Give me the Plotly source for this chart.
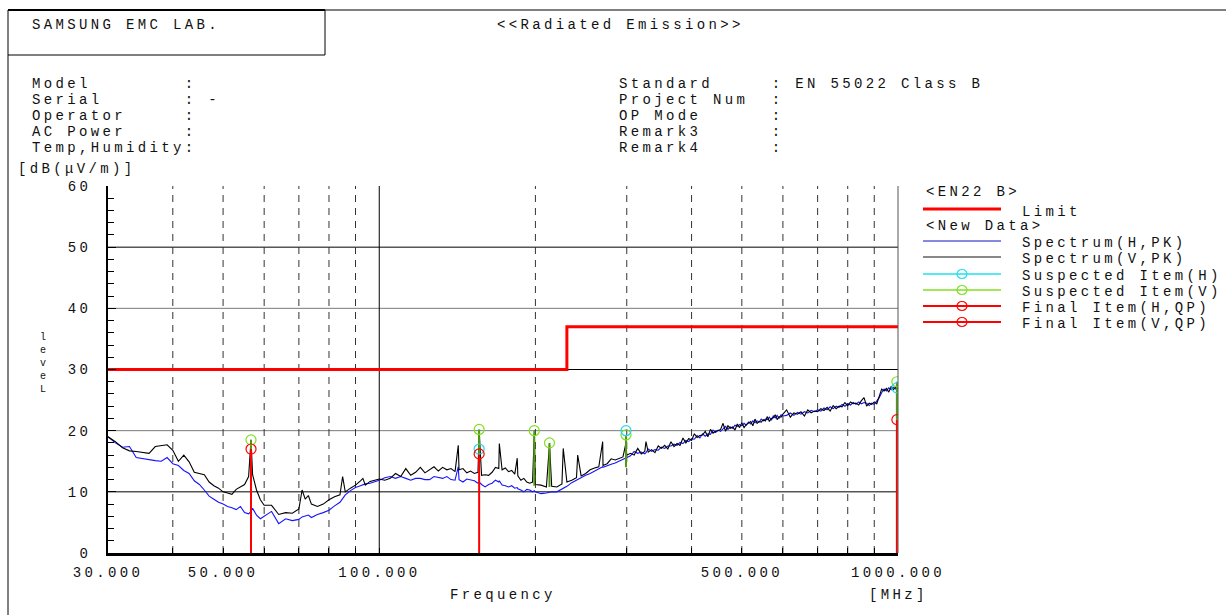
import plotly.graph_objects as go

# ---------------- data ----------------
freq_mhz = [
    30, 31, 32, 33, 34, 35, 36, 37, 38, 39, 40, 41, 42, 43, 44, 45, 46, 47, 48, 49, 50,
    51, 52, 53, 54, 55, 56, 56.6, 57, 58, 59, 60, 62, 64, 66, 68, 70, 71, 72, 73, 74, 76,
    78, 80, 82, 84, 85, 86, 88, 90, 92, 93, 94, 96, 98, 100,
    102.5, 105, 107.5, 110, 112.5, 115, 117.5, 120, 122.5, 125, 127.5, 130, 132.5, 135,
    137.5, 140, 142, 142.5, 145, 147.5, 150, 152.5, 155, 155.8, 157.5, 160, 162.5, 165,
    167.5, 170, 170.4, 172.5, 175, 177.5, 180, 182.5, 184.5, 185, 187.5, 190, 192.5, 195,
    197.5, 199, 200, 205, 210, 212.9, 215, 220, 225, 226.3, 230, 235, 240, 241.3, 245,
    250, 255, 260, 265, 269.6, 270, 275, 280, 285, 290, 295, 299, 300,
    305, 310, 315, 320, 325, 326.7, 330, 335, 340, 345,
    350, 355, 360, 365, 370, 375, 380, 385, 390, 395,
    400, 405, 410, 415, 420, 425, 430, 435, 440, 445,
    450, 455, 460, 465, 470, 475, 480, 485, 490, 495,
    500, 505, 510, 515, 520, 525, 530, 535, 540, 545,
    550, 555, 560, 565, 570, 575, 580, 585, 590, 595,
    600, 610, 620, 630, 640, 650, 660, 670, 680, 690,
    700, 710, 720, 730, 740, 750, 760, 770, 780, 790,
    800, 810, 820, 830, 840, 850, 860, 870, 880, 890,
    900, 910, 920, 930, 940, 950, 960, 970, 980, 990,
    995, 1000,
]

spectrum_h_pk = [
    19.0, 18.0, 17.3, 17.4, 15.6, 15.4, 15.3, 15.1, 15.0, 15.6, 14.6, 14.3, 13.5, 13.0,
    11.8, 11.2, 10.3, 9.3, 8.8, 8.3, 8.0, 7.6, 7.4, 7.1, 7.6, 6.6, 6.4, 6.8, 7.3, 6.2,
    5.6, 6.0, 6.8, 4.8, 5.6, 5.3, 5.5, 5.9, 6.0, 6.2, 5.8, 6.3, 6.6, 7.0, 7.7, 8.3, 8.9,
    9.5, 10.2, 10.7, 11.0, 11.2, 11.3, 11.4, 11.6, 11.9,
    12.3, 12.5, 12.2, 12.5, 12.2, 11.9, 12.2, 12.2, 12.0, 12.0, 12.5, 12.3, 12.2, 12.5,
    12.0, 11.9, 14.1, 12.0, 11.6, 12.1, 12.0, 11.8, 11.4, 11.6, 11.2, 10.8, 11.2, 11.4,
    11.9, 11.6, 11.8, 11.1, 11.0, 10.8, 11.0, 10.6, 10.7, 10.5, 10.3, 10.0, 10.4, 10.3,
    10.0, 10.2, 10.0, 9.7, 9.8, 9.9, 10.0, 10.0, 10.4, 10.5, 10.9, 11.5, 11.9, 12.1, 12.3,
    12.7, 13.0, 13.4, 13.8, 14.1, 14.0, 14.3, 14.5, 14.7, 15.0, 15.3, 15.5, 15.6,
    15.9, 16.6, 16.3, 16.5, 16.2, 16.4, 17.0, 16.6, 16.9, 16.8,
    17.3, 17.1, 17.5, 17.5, 17.8, 17.6, 18.1, 17.9, 18.4, 18.2,
    18.7, 18.6, 19.2, 18.8, 19.5, 19.1, 19.5, 19.4, 20.1, 19.7,
    20.1, 19.9, 20.3, 20.7, 20.2, 20.6, 20.4, 20.9, 20.7, 21.0,
    20.8, 21.2, 20.9, 21.4, 21.1, 21.6, 21.3, 21.6, 21.4, 21.9,
    21.6, 21.9, 21.8, 22.2, 21.7, 22.4, 22.1, 22.5, 22.0, 22.6,
    22.4, 22.5, 22.9, 22.5, 23.0, 22.7, 23.1, 22.9, 23.3, 23.1,
    23.4, 23.2, 23.7, 23.4, 23.9, 23.6, 24.0, 23.8, 24.3, 24.0,
    24.4, 24.2, 24.6, 24.3, 24.7, 24.4, 24.6, 24.5, 24.1, 24.5,
    24.3, 24.8, 25.4, 26.2, 26.8, 26.5, 27.0, 26.7, 27.1, 26.8,
    27.0, 26.9,
]

spectrum_v_pk = [
    19.0, 18.2, 17.2, 16.7, 16.6, 16.5, 16.3, 17.4, 17.6, 17.7, 16.8, 15.0, 16.0, 14.9,
    13.2, 13.0, 12.8, 11.6, 11.0, 10.6, 10.0, 9.8, 9.6, 10.4, 10.8, 11.2, 12.5, 18.5,
    12.8, 10.3, 8.7, 7.8, 7.8, 6.3, 6.6, 6.5, 7.2, 10.3, 8.8, 9.4, 8.0, 7.6, 8.0, 8.7,
    9.2, 9.5, 12.5, 10.0, 10.6, 11.1, 11.8, 12.2, 11.1, 11.7, 11.9, 12.1,
    11.9, 12.2, 13.0, 12.5, 13.8, 12.7, 13.2, 14.0, 13.1, 13.6, 14.1, 13.4, 14.0, 13.6,
    13.8, 13.3, 17.6, 13.6, 13.8, 13.1, 13.4, 13.0, 13.2, 20.0, 12.7, 12.8, 12.7, 13.2,
    14.0, 13.8, 17.9, 13.6, 13.9, 13.3, 13.5, 12.9, 15.5, 12.6, 11.9, 12.2, 11.6, 11.4,
    11.6, 19.5, 11.2, 11.1, 10.8, 17.8, 10.9, 10.8, 11.3, 17.1, 11.6, 11.9, 12.3, 16.0,
    12.6, 13.0, 13.6, 13.9, 14.1, 18.2, 14.3, 14.6, 15.4, 15.2, 15.4, 15.7, 18.0, 16.0,
    16.3, 16.0, 17.1, 16.2, 16.6, 18.2, 16.5, 16.9, 16.4, 17.5,
    17.1, 17.6, 17.0, 18.2, 17.4, 17.9, 17.6, 18.8, 18.0, 18.7,
    18.4, 19.5, 18.9, 19.2, 19.3, 19.9, 19.0, 20.2, 19.6, 19.9,
    20.0, 20.2, 21.2, 19.9, 20.8, 20.4, 20.6, 20.1, 21.1, 20.5,
    21.3, 20.5, 21.0, 21.2, 21.5, 20.8, 21.9, 21.2, 21.5, 21.4,
    21.8, 21.6, 22.3, 21.5, 22.0, 22.1, 22.6, 21.8, 22.3, 22.2,
    22.7, 23.4, 22.2, 22.9, 22.7, 23.1, 22.4, 23.4, 22.9, 23.2,
    23.1, 23.6, 23.3, 23.8, 23.2, 24.1, 23.6, 24.0, 23.9, 24.6,
    24.1, 24.7, 24.4, 24.5, 24.2, 24.9, 25.4, 24.0, 24.5, 24.3,
    24.7, 24.4, 25.7, 26.8, 26.5, 26.9, 26.3, 27.2, 26.7, 27.1,
    26.9, 27.2,
]

assert len(freq_mhz) == len(spectrum_h_pk) == len(spectrum_v_pk), (
    len(freq_mhz), len(spectrum_h_pk), len(spectrum_v_pk))

limit_freq = [30, 230, 230, 1000]
limit_level = [30, 30, 37, 37]

susp_h_freq = [155.8, 299, 995]
susp_h_level = [17.0, 20.0, 27.0]

susp_v_freq = [56.6, 155.8, 199, 212.9, 299, 995]
susp_v_level = [18.5, 20.2, 20.0, 18.0, 19.3, 28.0]
susp_v_base = [17.0, 16.2, 11.0, 10.8, 14.0, 21.8]

final_h_freq = [155.8]
final_h_level = [16.2]
final_v_freq = [56.6, 995]
final_v_level = [17.0, 21.8]

grid_dashed_freq = [40, 50, 60, 70, 80, 90, 200, 300, 400, 500, 600, 700, 800, 900]
grid_solid_freq = [100]
x_tick_vals = [30, 40, 50, 60, 70, 80, 90, 100, 200, 300, 400, 500, 600, 700, 800, 900, 1000]
x_tick_text = ["30.000", "", "50.000", "", "", "", "", "100.000", "", "", "", "500.000",
               "", "", "", "", "1000.000"]
y_tick_vals = [0, 10, 20, 30, 40, 50, 60]
y_grid_black = [10, 30, 50]
y_grid_gray = [20, 40]

header_left = ["Model", "Serial", "Operator", "AC Power", "Temp,Humidity"]
header_left_val = ["", "-", "", "", ""]
header_right = ["Standard", "Project Num", "OP Mode", "Remark3", "Remark4"]
header_right_val = ["EN 55022 Class B", "", "", "", ""]

legend_labels = ["Spectrum(H,PK)", "Spectrum(V,PK)", "Suspected Item(H)",
                 "Suspected Item(V)", "Final Item(H,QP)", "Final Item(V,QP)"]

# ---------------- styling helpers ----------------
FONT = "Liberation Mono"
LS = 3.35
L, R, T, B = 108, 898, 186, 553
W, H = R - L, B - T


def px(x):
    return (x - L) / W


def py(y):
    return (B - y) / H


def mono(s, ls=LS):
    s = s.replace(" ", "\u00a0")
    return f'<span style="letter-spacing:{ls}px">{s}</span>'


def stems(freqs, lo, hi):
    xs, ys = [], []
    for f, a, b in zip(freqs, lo, hi):
        xs += [f, f, None]
        ys += [a, b, None]
    return xs, ys


def vlines(freqs):
    xs, ys = [], []
    for f in freqs:
        xs += [f, f, None]
        ys += [0, 60, None]
    return xs, ys


fig = go.Figure()

# vertical grid
gx, gy = vlines(grid_dashed_freq)
fig.add_trace(go.Scatter(x=gx, y=gy, mode="lines",
                         line=dict(color="#333333", width=1, dash="7px,6px"),
                         hoverinfo="skip", showlegend=False))
gx, gy = vlines(grid_solid_freq)
fig.add_trace(go.Scatter(x=gx, y=gy, mode="lines",
                         line=dict(color="#000000", width=1),
                         hoverinfo="skip", showlegend=False))

# limit
fig.add_trace(go.Scatter(x=limit_freq, y=limit_level, mode="lines",
                         line=dict(color="#ff0000", width=3), showlegend=False))

# spectra
fig.add_trace(go.Scatter(x=freq_mhz, y=spectrum_h_pk, mode="lines",
                         line=dict(color="#1414ff", width=1.1), showlegend=False))
fig.add_trace(go.Scatter(x=freq_mhz, y=spectrum_v_pk, mode="lines",
                         line=dict(color="#000000", width=1.1), showlegend=False))

# suspected V stems
sx, sy = stems(susp_v_freq, susp_v_base, susp_v_level)
fig.add_trace(go.Scatter(x=sx, y=sy, mode="lines",
                         line=dict(color="#4f9a10", width=2),
                         hoverinfo="skip", showlegend=False))

# final stems
fx, fy = stems(final_h_freq + final_v_freq, [0] * 3, final_h_level + final_v_level)
fig.add_trace(go.Scatter(x=fx, y=fy, mode="lines",
                         line=dict(color="#ff0000", width=2),
                         hoverinfo="skip", showlegend=False))

# markers
mk = dict(symbol="circle-open", size=10, line=dict(width=1.2))
fig.add_trace(go.Scatter(x=susp_v_freq, y=susp_v_level, mode="markers",
                         marker=dict(color="#80e020", **mk), showlegend=False))
fig.add_trace(go.Scatter(x=susp_h_freq, y=susp_h_level, mode="markers",
                         marker=dict(color="#20d8f0", **mk), showlegend=False))
fig.add_trace(go.Scatter(x=final_h_freq, y=final_h_level, mode="markers",
                         marker=dict(color="#ff0000", **mk), showlegend=False))
fig.add_trace(go.Scatter(x=final_v_freq, y=final_v_level, mode="markers",
                         marker=dict(color="#ff0000", **mk), showlegend=False))

shapes = []
# horizontal grid
for v in y_grid_black:
    shapes.append(dict(type="line", xref="paper", yref="y", x0=0, x1=1, y0=v, y1=v,
                       line=dict(color="#000000", width=1), layer="below"))
for v in y_grid_gray:
    shapes.append(dict(type="line", xref="paper", yref="y", x0=0, x1=1, y0=v, y1=v,
                       line=dict(color="#7a7a7a", width=1), layer="below"))
# right border
shapes.append(dict(type="line", xref="paper", yref="paper", x0=1, x1=1, y0=0, y1=1,
                   line=dict(color="#555555", width=1)))

# page frame
shapes.append(dict(type="line", xref="paper", yref="paper", x0=px(8), x1=px(1226),
                   y0=py(10), y1=py(10), line=dict(color="#808080", width=2)))
shapes.append(dict(type="line", xref="paper", yref="paper", x0=px(8), x1=px(325),
                   y0=py(10), y1=py(10), line=dict(color="#000000", width=2)))
shapes.append(dict(type="line", xref="paper", yref="paper", x0=px(8), x1=px(8),
                   y0=py(10), y1=py(615), line=dict(color="#000000", width=1)))
shapes.append(dict(type="line", xref="paper", yref="paper", x0=px(325), x1=px(325),
                   y0=py(10), y1=py(55), line=dict(color="#000000", width=1)))
shapes.append(dict(type="line", xref="paper", yref="paper", x0=px(8), x1=px(325),
                   y0=py(55), y1=py(55), line=dict(color="#000000", width=1)))

annotations = []


def text(x, y, s, anchor="left", size=14, ls=LS):
    annotations.append(dict(xref="paper", yref="paper", x=px(x), y=py(y),
                            text=mono(s, ls), showarrow=False, xanchor=anchor,
                            yanchor="middle", font=dict(family=FONT, size=size, color="#111111")))


text(30, 25, "SAMSUNG EMC LAB.")
text(495, 25, "&lt;&lt;Radiated Emission&gt;&gt;")
rows_y = [84, 100, 116, 132, 148]
for yy, k, v in zip(rows_y, header_left, header_left_val):
    s = (k + " " * 13)[:13] + ":" + ((" " + v) if v else "")
    text(30, yy, s)
for yy, k, v in zip(rows_y, header_right, header_right_val):
    s = (k + " " * 13)[:13] + ":" + ((" " + v) if v else "")
    text(617, yy, s)

text(16, 169, "[dB(μV/m)]")
annotations.append(dict(xref="paper", yref="paper", x=px(43), y=py(363),
                        text="l<br>e<br>v<br>e<br>L", showarrow=False,
                        xanchor="center", yanchor="middle",
                        font=dict(family=FONT, size=10, color="#111111")))
text(503, 595, "Frequency", anchor="center")
text(898, 595, "[MHz]", anchor="center")

# legend
legend_y = [241, 257, 274, 290, 306, 322]
legend_col = ["#1010c0", "#606060", "#20e0f0", "#80e020", "#ff0000", "#ff0000"]
legend_w = [1, 1.5, 1.5, 1.5, 2, 2]
legend_mark = [False, False, True, True, True, True]
text(924, 192, "&lt;EN22 B&gt;")
shapes.append(dict(type="line", xref="paper", yref="paper", x0=px(923), x1=px(1001),
                   y0=py(209), y1=py(209), line=dict(color="#ff0000", width=3)))
text(1020, 212, "Limit")
text(924, 226, "&lt;New Data&gt;")
for yy, lab, c, w, m in zip(legend_y, legend_labels, legend_col, legend_w, legend_mark):
    shapes.append(dict(type="line", xref="paper", yref="paper", x0=px(923), x1=px(1001),
                       y0=py(yy), y1=py(yy), line=dict(color=c, width=w)))
    if m:
        shapes.append(dict(type="circle", xref="paper", yref="paper",
                           x0=px(957), x1=px(967), y0=py(yy - 4.5), y1=py(yy + 4.5),
                           line=dict(color=c, width=1.2), fillcolor="rgba(0,0,0,0)"))
    text(1020, yy + 2, lab)

fig.update_layout(
    width=1226, height=615,
    margin=dict(l=L, r=1226 - R, t=T, b=615 - B, pad=0),
    paper_bgcolor="white", plot_bgcolor="white",
    font=dict(family=FONT, size=14, color="#111111"),
    shapes=shapes, annotations=annotations,
    showlegend=False,
    xaxis=dict(type="log", range=[1.4771213, 3.0], showgrid=False, zeroline=False,
               tickvals=x_tick_vals, ticktext=[mono(t) for t in x_tick_text],
               tickangle=0,
               ticks="inside", ticklen=5, tickwidth=1, tickcolor="#000",
               showline=True, linecolor="#000", linewidth=3,
               ticklabelstandoff=4, automargin=False,
               tickfont=dict(family=FONT, size=14, color="#111111")),
    yaxis=dict(range=[0, 60], showgrid=False, zeroline=False,
               tickvals=y_tick_vals, ticktext=[mono(str(v)) for v in y_tick_vals],
               ticks="inside", ticklen=8, tickwidth=1, tickcolor="#000",
               minor=dict(dtick=2, ticks="inside", ticklen=6, tickcolor="#000", showgrid=False),
               showline=True, linecolor="#000", linewidth=2,
               ticklabelstandoff=12, automargin=False,
               tickfont=dict(family=FONT, size=14, color="#111111")),
)

fig.write_html("out.html", config={"displayModeBar": False},
               post_script="document.body.style.margin='0';document.body.style.overflow='hidden';")
